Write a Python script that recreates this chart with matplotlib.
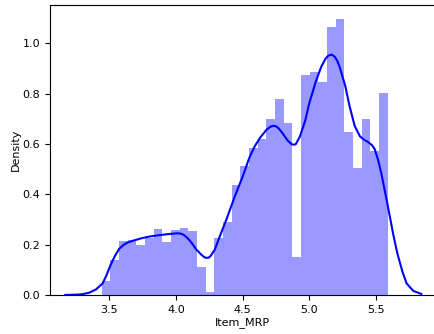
import matplotlib
matplotlib.use("Agg")
import matplotlib.pyplot as plt
import numpy as np

# histogram of log(Item_MRP): 33 bins between min and max
mrp_min, mrp_max = 3.4433, 5.5868
density = [
    0.056, 0.137, 0.215, 0.218, 0.200, 0.225, 0.263, 0.212, 0.257, 0.266,
    0.255, 0.112, 0.011, 0.226, 0.288, 0.438, 0.514, 0.583, 0.620, 0.698,
    0.778, 0.682, 0.150, 0.874, 0.886, 0.847, 1.066, 1.095, 0.646, 0.503,
    0.698, 0.573, 0.801,
]

# kde curve
kde_x = [3.17, 3.25, 3.30, 3.35, 3.40, 3.45, 3.48, 3.51, 3.545, 3.575, 3.61, 3.64,
         3.675, 3.74, 3.80, 3.87, 3.93, 3.97, 4.01, 4.04, 4.06, 4.08, 4.10, 4.12,
         4.15, 4.19, 4.21, 4.227, 4.245, 4.26, 4.29, 4.33, 4.377, 4.44, 4.50, 4.55,
         4.59, 4.63, 4.68, 4.71, 4.73, 4.75, 4.77, 4.80, 4.84, 4.87, 4.89, 4.90,
         4.93, 4.97, 5.00, 5.05, 5.09, 5.12, 5.14, 5.167, 5.19, 5.21, 5.23, 5.27,
         5.30, 5.34, 5.38, 5.41, 5.44, 5.47, 5.49, 5.515, 5.54, 5.59, 5.63, 5.66,
         5.70, 5.73, 5.78, 5.84]
kde_y = [0.000, 0.001, 0.003, 0.009, 0.022, 0.046, 0.080, 0.120, 0.158, 0.184,
         0.200, 0.209, 0.215, 0.225, 0.232, 0.237, 0.241, 0.243, 0.245, 0.243,
         0.238, 0.229, 0.218, 0.205, 0.182, 0.160, 0.151, 0.147, 0.148, 0.155,
         0.179, 0.235, 0.298, 0.390, 0.470, 0.545, 0.590, 0.624, 0.657, 0.669,
         0.672, 0.670, 0.662, 0.642, 0.612, 0.598, 0.597, 0.600, 0.630, 0.694,
         0.762, 0.850, 0.907, 0.937, 0.950, 0.955, 0.947, 0.930, 0.902, 0.830,
         0.755, 0.672, 0.630, 0.617, 0.608, 0.595, 0.580, 0.538, 0.484, 0.351,
         0.240, 0.166, 0.090, 0.046, 0.016, 0.004]

plt.rcParams["font.size"] = 8

fig = plt.figure(figsize=(4.35, 3.34), dpi=100)
ax = fig.add_axes([0.115, 0.117, 0.885, 0.868])

edges = np.linspace(mrp_min, mrp_max, len(density) + 1)
ax.bar(edges[:-1], density, width=np.diff(edges), align="edge",
       color="blue", alpha=0.4, linewidth=0)
ax.plot(kde_x, kde_y, color="blue", linewidth=1.5)

ax.set_xlim(3.055, 5.943)
ax.set_ylim(0, 1.152)
ax.set_xticks([3.5, 4.0, 4.5, 5.0, 5.5])
ax.set_yticks([0.0, 0.2, 0.4, 0.6, 0.8, 1.0])
ax.set_xlabel("Item_MRP", labelpad=2)
ax.set_ylabel("Density", labelpad=1)

fig.savefig("out.png", dpi=100)
